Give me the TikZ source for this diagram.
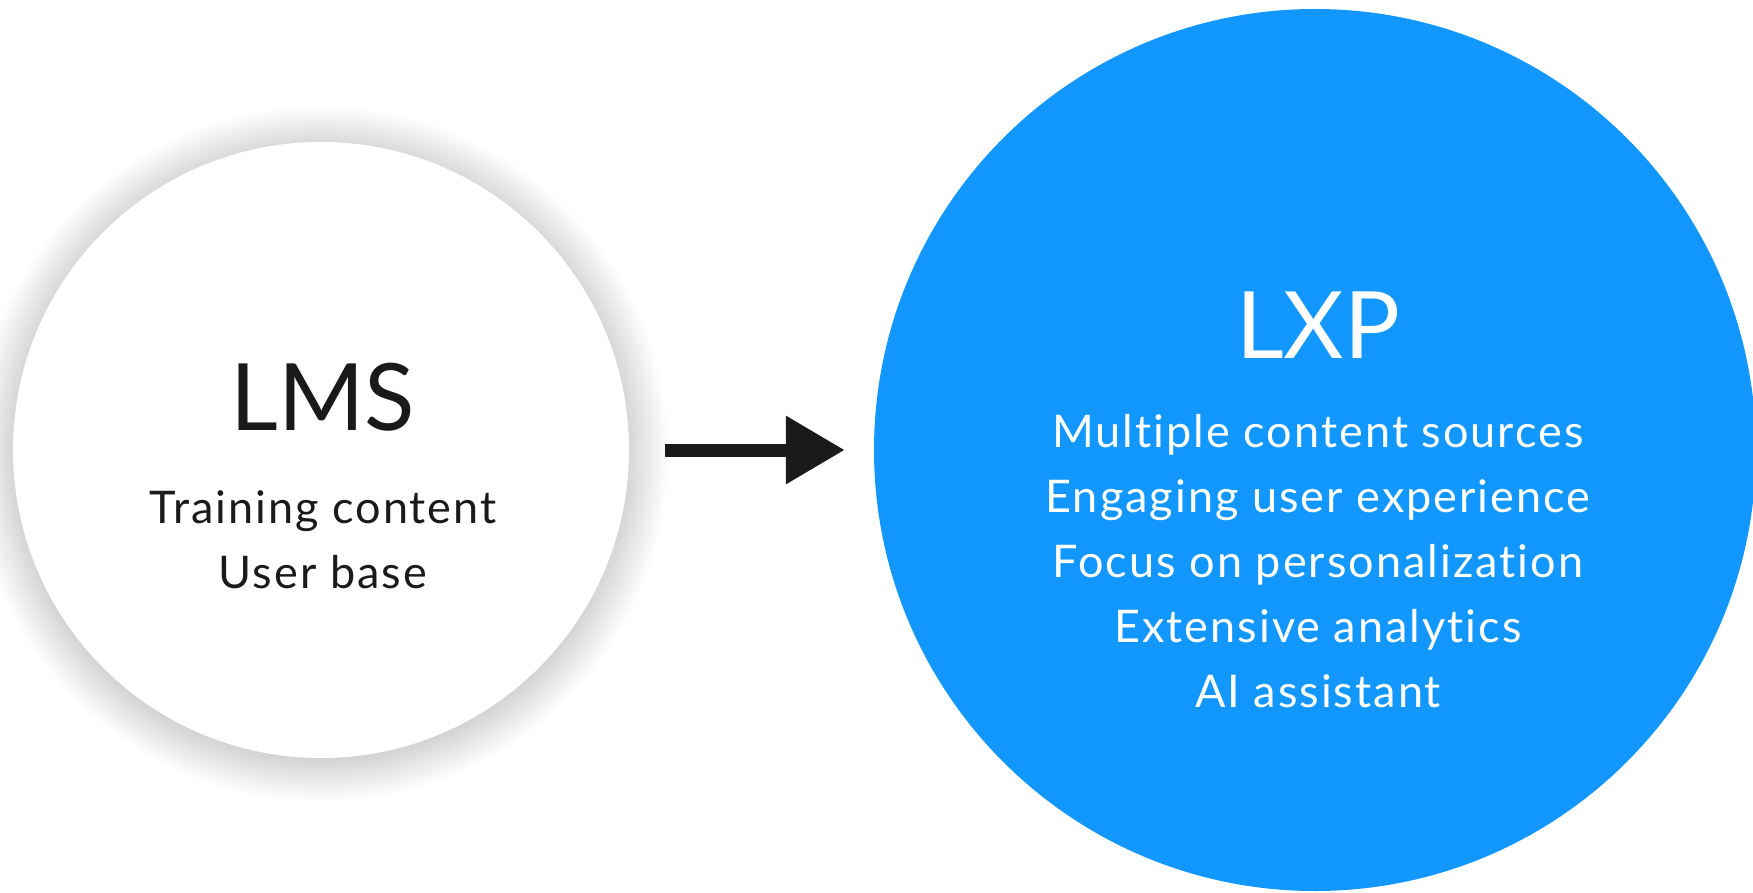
\documentclass[tikz,border=0pt]{standalone}
\usepackage{fontspec}
\setmainfont{Lato}[Ligatures=NoCommon]
\newfontfamily\itemfam{Lato}[LetterSpace=4.5, Ligatures=NoCommon]
\usetikzlibrary{arrows.meta,calc}
\definecolor{lxpblue}{HTML}{1297FF}
\definecolor{ink}{HTML}{1A1A1A}
\tikzset{
  lmstext/.style={anchor=base, text=ink, inner sep=0pt},
  lxptext/.style={anchor=base, text=white, inner sep=0pt},
  bigfont/.style={font=\fontsize{93}{93}\selectfont},
  itemfont/.style={font=\itemfam\fontsize{45}{45}\selectfont},
}
\begin{document}
\begin{tikzpicture}[x=1pt,y=-1pt]
\useasboundingbox (0,0) rectangle (1753,893);
\fill[white] (0,0) rectangle (1753,893);
% soft shadow of the LMS circle
\foreach \i in {1,...,44} {
  \fill[black,opacity=0.0024] (321,454) circle[radius={(304+\i)*1pt}];
}
\node[circle, fill=white, minimum size=616pt, inner sep=0pt] (lms) at (321,450) {};
\node[circle, fill=lxpblue, minimum size=882pt, inner sep=0pt] (lxp) at (1315,450) {};
% arrow
\coordinate (a0) at ($(lms.east)+(36,0)$);
\coordinate (a1) at ($(lxp.west)+(-29,0)$);
\draw[ink, line width=13pt, -{Triangle[length=59pt,width=65pt]}] (a0) -- (a1);
% LMS texts
\node[lmstext, bigfont] (lmst) at (323,430) {LMS};
\node[lmstext, itemfont] (l1) at (323,523) {Training content};
\node[lmstext, itemfont] (l2) at (323,588) {User base};
% LXP texts
\node[lxptext, bigfont] (lxpt) at (1318,358) {LXP};
\node[lxptext, itemfont] (x1) at (1318,447) {Multiple content sources};
\node[lxptext, itemfont] (x2) at (1318,512) {Engaging user experience};
\node[lxptext, itemfont] (x3) at (1318,577) {Focus on personalization};
\node[lxptext, itemfont] (x4) at (1318,642) {Extensive analytics};
\node[lxptext, itemfont] (x5) at (1318,707) {AI assistant};
\end{tikzpicture}
\end{document}
